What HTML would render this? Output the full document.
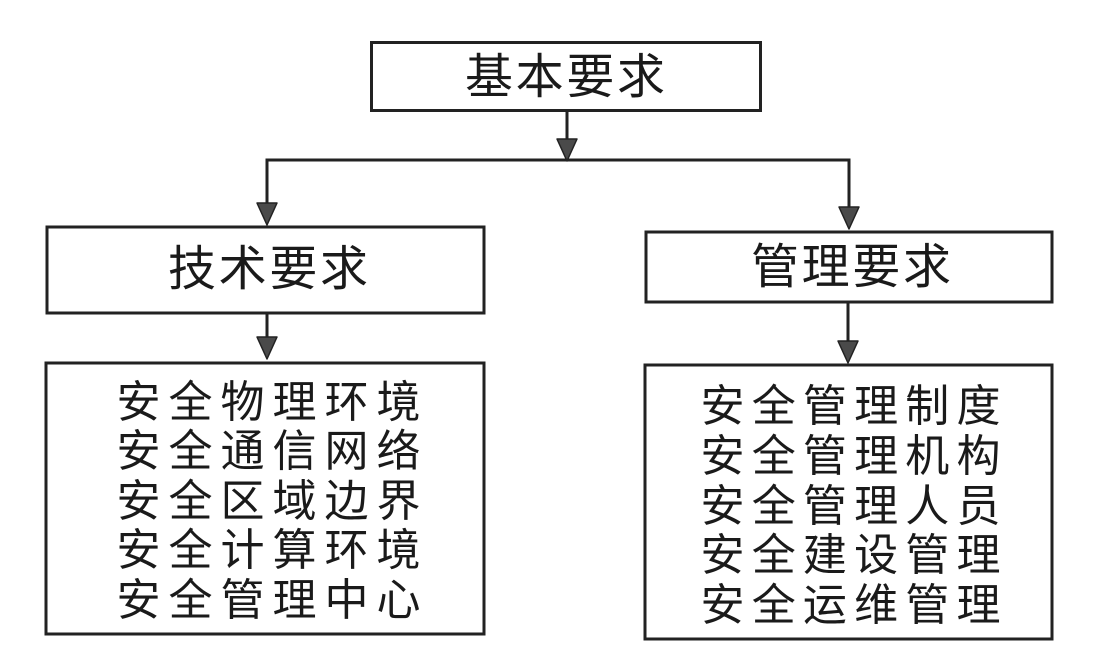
<!DOCTYPE html>
<html><head><meta charset="utf-8"><style>
html,body{margin:0;padding:0;background:#fff;}
svg{display:block;}
text{font-family:"Liberation Sans","Noto Sans CJK SC",sans-serif;fill:#1a1a1a;}
</style></head><body>
<svg width="1096" height="668" viewBox="0 0 1096 668" xmlns="http://www.w3.org/2000/svg">
<g fill="none" stroke="#222" stroke-width="3">
<rect x="371.5" y="42.5" width="389" height="68"/>
<rect x="47" y="227" width="437" height="86"/>
<rect x="46" y="363" width="438" height="271"/>
<rect x="646" y="232" width="406" height="70"/>
<rect x="645" y="365" width="407" height="274"/>
<polyline points="567,112 567,140"/>
<polyline points="267,204 267,160 849,160 849,208"/>
<polyline points="267,314 267,338"/>
<polyline points="848,303 848,342"/>
</g>
<g fill="#4a4a4a" stroke="#222" stroke-width="1.5" stroke-linejoin="round">
<polygon points="557,139 577,139 567,161"/>
<polygon points="257,203 277,203 267,225"/>
<polygon points="839,207 859,207 849,229"/>
<polygon points="257,337 277,337 267,359"/>
<polygon points="838,341 858,341 848,363"/>
</g>
<g font-size="48">
<text x="465" y="93" textLength="200" lengthAdjust="spacing">基本要求</text>
<text x="168" y="285" textLength="200" lengthAdjust="spacing">技术要求</text>
<text x="751" y="283" textLength="200" lengthAdjust="spacing">管理要求</text>
</g>
<g font-size="44">
<text x="116.5" y="417" textLength="304" lengthAdjust="spacing">安全物理环境</text>
<text x="116.5" y="466" textLength="304" lengthAdjust="spacing">安全通信网络</text>
<text x="116.5" y="516" textLength="304" lengthAdjust="spacing">安全区域边界</text>
<text x="116.5" y="565" textLength="304" lengthAdjust="spacing">安全计算环境</text>
<text x="116.5" y="615" textLength="304" lengthAdjust="spacing">安全管理中心</text>
<text x="700.5" y="421" textLength="300" lengthAdjust="spacing">安全管理制度</text>
<text x="700.5" y="471" textLength="300" lengthAdjust="spacing">安全管理机构</text>
<text x="700.5" y="521" textLength="300" lengthAdjust="spacing">安全管理人员</text>
<text x="700.5" y="570" textLength="300" lengthAdjust="spacing">安全建设管理</text>
<text x="700.5" y="620" textLength="300" lengthAdjust="spacing">安全运维管理</text>
</g>
</svg>
</body></html>
